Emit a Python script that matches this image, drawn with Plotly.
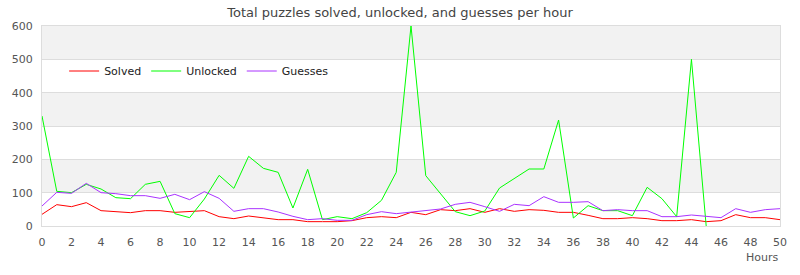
import plotly.graph_objects as go

hours = list(range(0, 51))

solved = [35, 64, 58, 70, 46, 43, 40, 46, 46, 41, 43, 46, 28, 22, 30, 24, 19, 19, 13, 13,
          13, 16, 25, 28, 25, 41, 34, 49, 46, 52, 41, 52, 44, 49, 47, 41, 41, 32, 22, 22,
          25, 22, 16, 16, 19, 13, 16, 34, 25, 25, 19]

unlocked = [330, 104, 100, 125, 111, 85, 82, 125, 134, 37, 25, 81, 152, 113, 209, 173, 161, 54, 170, 19,
            28, 22, 40, 77, 161, 600, 151, 98, 43, 31, 45, 114, 143, 171, 171, 318, 24, 61, 46, 46,
            31, 116, 82, 28, 500, 0, None, None, None, None, None]

guesses = [60, 101, 98, 128, 100, 97, 91, 91, 83, 95, 79, 103, 83, 44, 52, 52, 42, 29, 19, 22,
           17, 17, 34, 43, 37, 41, 46, 51, 65, 71, 58, 44, 65, 61, 88, 71, 71, 73, 46, 49,
           46, 46, 28, 28, 33, 30, 25, 52, 41, 49, 52]

series_names = ["Solved", "Unlocked", "Guesses"]
series_colors = ["#ff0000", "#00ff00", "#aa33ff"]
y_ticks = [0, 100, 200, 300, 400, 500, 600]
x_ticks = list(range(0, 51, 2))
bands = [(100, 200), (300, 400), (500, 600)]

FONT = "DejaVu Sans, Verdana, sans-serif"

fig = go.Figure()
for name, vals, col in zip(series_names, [solved, unlocked, guesses], series_colors):
    fig.add_trace(go.Scatter(x=hours, y=vals, name=name, mode="lines",
                             line=dict(color=col, width=1), connectgaps=False))

for lo, hi in bands:
    fig.add_shape(type="rect", xref="paper", yref="y", x0=0, x1=1, y0=lo, y1=hi,
                  fillcolor="#f2f2f2", line_width=0, layer="below")

fig.update_layout(
    width=800, height=275,
    margin=dict(l=40, r=20, t=26, b=49),
    paper_bgcolor="white", plot_bgcolor="white",
    font=dict(family=FONT, size=11, color="#555555"),
    title=dict(text="Total puzzles solved, unlocked, and guesses per hour",
               x=0.5, xanchor="center", y=1 - 12 / 275, yanchor="middle", yref="container",
               font=dict(family=FONT, size=13, color="#444444")),
    showlegend=True,
    legend=dict(orientation="h", x=0.03, y=0.775, xanchor="left", yanchor="middle",
                bgcolor="rgba(0,0,0,0)", font=dict(family=FONT, size=11, color="#222222"),
                itemwidth=30, traceorder="normal"),
    xaxis=dict(range=[0, 50], tickvals=x_ticks, showgrid=False, zeroline=False,
               showline=True, linecolor="#dddddd", linewidth=1, mirror=True,
               ticks="outside", ticklen=6, tickcolor="rgba(0,0,0,0)"),
    yaxis=dict(range=[0, 600], tickvals=y_ticks, showgrid=True, gridcolor="#dddddd",
               gridwidth=1, zeroline=False, showline=True, linecolor="#dddddd", linewidth=1,
               mirror=True, ticks="outside", ticklen=6, tickcolor="rgba(0,0,0,0)"),
    annotations=[dict(text="Hours", xref="paper", yref="paper", x=1, y=-0.155,
                      xanchor="right", yanchor="middle", showarrow=False,
                      font=dict(family=FONT, size=11, color="#555555"))],
)

fig.write_html("out.html")
